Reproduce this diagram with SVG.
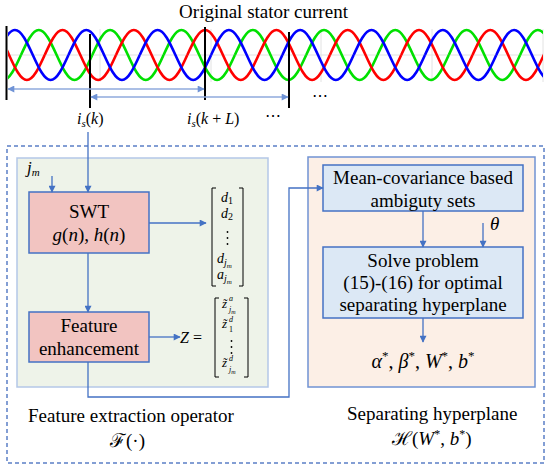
<svg xmlns="http://www.w3.org/2000/svg" xmlns:xlink="http://www.w3.org/1999/xlink" width="550" height="469" viewBox="0 0 550 469" font-family="'Liberation Serif','DejaVu Serif','Times New Roman',serif">
<style>
text{font-family:"Liberation Serif","DejaVu Serif","Times New Roman",serif;fill:#000}
.t19{font-size:19px}
.it{font-style:italic}
.box{stroke:#4472c4;stroke-width:1.5}
.conn{fill:none;stroke:#4472c4;stroke-width:1.3}
.lb{fill:none;stroke:#8faadc;stroke-width:1.3}
.vb{stroke:#000;stroke-width:2}
.br{fill:none;stroke:#000;stroke-width:1}
.grid{stroke:#e2e2e2;stroke-width:1}
.w{fill:none;stroke-width:2.6}
</style>
<defs>
<path id="per" d="M0,0 c5.813,-12.81 11.374,-25 17.825,-25 c6.451,0 12.012,12.19 17.825,25 c5.813,12.81 11.374,25 17.825,25 c6.451,0 12.012,-12.19 17.825,-25"/>
<clipPath id="wclip"><rect x="8" y="20" width="535" height="70"/></clipPath>
<marker id="ah" viewBox="0 0 10 10" refX="9" refY="5" markerWidth="8" markerHeight="7" markerUnits="userSpaceOnUse" orient="auto"><path d="M0,0 L10,5 L0,10 z" fill="#4472c4"/></marker>
<marker id="lah" viewBox="0 0 10 10" refX="9" refY="5" markerWidth="8" markerHeight="7" markerUnits="userSpaceOnUse" orient="auto-start-reverse"><path d="M0,0 L10,5 L0,10 z" fill="#6f93d6"/></marker>
</defs>
<rect width="550" height="469" fill="#fff"/>

<g id="waveform">
<text class="t19" x="263.5" y="18" text-anchor="middle">Original stator current</text>
<g class="grid">
<line x1="100" y1="29" x2="100" y2="82"/><line x1="211" y1="29" x2="211" y2="82"/><line x1="321" y1="29" x2="321" y2="82"/><line x1="432" y1="29" x2="432" y2="82"/><line x1="543" y1="29" x2="543" y2="82"/>
<line x1="8" y1="55" x2="543" y2="55"/>
</g>
<g clip-path="url(#wclip)">
<g class="w" stroke="#00e000" transform="translate(-50.32,55)">
<use xlink:href="#per" x="0"/><use xlink:href="#per" x="71.3"/><use xlink:href="#per" x="142.6"/><use xlink:href="#per" x="213.9"/><use xlink:href="#per" x="285.2"/><use xlink:href="#per" x="356.5"/><use xlink:href="#per" x="427.8"/><use xlink:href="#per" x="499.1"/><use xlink:href="#per" x="570.4"/>
</g>
<g class="w" stroke="#ff0000" transform="translate(-26.6,55)">
<use xlink:href="#per" x="0"/><use xlink:href="#per" x="71.3"/><use xlink:href="#per" x="142.6"/><use xlink:href="#per" x="213.9"/><use xlink:href="#per" x="285.2"/><use xlink:href="#per" x="356.5"/><use xlink:href="#per" x="427.8"/><use xlink:href="#per" x="499.1"/><use xlink:href="#per" x="570.4"/>
</g>
<g class="w" stroke="#0000ff" transform="translate(-2.83,55)">
<use xlink:href="#per" x="0"/><use xlink:href="#per" x="71.3"/><use xlink:href="#per" x="142.6"/><use xlink:href="#per" x="213.9"/><use xlink:href="#per" x="285.2"/><use xlink:href="#per" x="356.5"/><use xlink:href="#per" x="427.8"/><use xlink:href="#per" x="499.1"/>
</g>
</g>
<line class="vb" x1="6.5" y1="26" x2="6.5" y2="100"/>
<line class="vb" x1="90" y1="34" x2="90" y2="108"/>
<line class="vb" x1="205" y1="27" x2="205" y2="100"/>
<line class="vb" x1="289" y1="32" x2="289" y2="108"/>
<line class="lb" x1="8" y1="89" x2="204" y2="89" marker-start="url(#lah)" marker-end="url(#lah)"/>
<line class="lb" x1="91" y1="97" x2="288" y2="97" marker-start="url(#lah)" marker-end="url(#lah)"/>
<text x="312" y="101" font-size="16">⋯</text>
</g>

<g id="labels-is">
<text x="77" y="124" font-size="16"><tspan class="it">i</tspan><tspan dy="3" font-size="11" class="it">s</tspan><tspan dy="-3">(</tspan><tspan class="it">k</tspan>)</text>
<text x="187" y="124" font-size="16"><tspan class="it">i</tspan><tspan dy="3" font-size="11" class="it">s</tspan><tspan dy="-3">(</tspan><tspan class="it">k</tspan> + <tspan class="it">L</tspan>)</text>
<text x="265" y="121" font-size="16">⋯</text>
</g>

<g id="outer">
<rect x="7" y="146" width="537" height="317" fill="none" stroke="#5b7fc6" stroke-width="1.5" stroke-dasharray="4 3"/>
</g>

<g id="feature-extraction">
<rect x="17" y="158" width="251" height="229" fill="#eef3e9" stroke="#b4c7e7" stroke-width="1.5"/>
<text class="t19" x="28" y="422">Feature extraction operator</text>
<text x="110" y="447" font-size="19">ℱ(·)</text>
</g>

<g id="separating">
<rect x="308" y="157" width="227" height="230" fill="#fcefe6" stroke="#7093d3" stroke-width="1.5"/>
<text class="t19" x="347" y="420">Separating hyperplane</text>
<text x="392" y="445" font-size="19">ℋ(<tspan class="it">W</tspan><tspan dy="-7" font-size="12">*</tspan><tspan dy="7">, </tspan><tspan class="it">b</tspan><tspan dy="-7" font-size="12">*</tspan><tspan dy="7">)</tspan></text>
</g>

<g id="jm">
<text x="27" y="173" font-size="17"><tspan class="it">j</tspan><tspan dy="3" font-size="11" class="it">m</tspan></text>
</g>

<g id="swt">
<rect class="box" x="29" y="192" width="120" height="61" fill="#f2c4c1"/>
<text class="t19" x="89" y="218" text-anchor="middle">SWT</text>
<text class="t19" x="89" y="241" text-anchor="middle"><tspan class="it">g</tspan>(<tspan class="it">n</tspan>), <tspan class="it">h</tspan>(<tspan class="it">n</tspan>)</text>
</g>

<g id="matrix-d">
<path class="br" d="M216,188 H212 V286 H216 M239,188 H243 V286 H239"/>
<text font-size="14" class="it"><tspan x="221" y="202">d</tspan><tspan dy="2" font-size="10" font-style="normal">1</tspan></text>
<text font-size="14" class="it"><tspan x="221" y="218">d</tspan><tspan dy="2" font-size="10" font-style="normal">2</tspan></text>
<circle cx="227.5" cy="232" r="0.9"/><circle cx="227.5" cy="238" r="0.9"/><circle cx="227.5" cy="244" r="0.9"/>
<text font-size="14" class="it"><tspan x="217" y="263">d</tspan><tspan dy="3" font-size="10">j</tspan><tspan dy="2" font-size="7">m</tspan></text>
<text font-size="14" class="it"><tspan x="217" y="279">a</tspan><tspan dy="3" font-size="10">j</tspan><tspan dy="2" font-size="7">m</tspan></text>
</g>

<g id="feature-enhancement">
<rect class="box" x="29" y="312" width="120" height="50" fill="#f2c4c1"/>
<text class="t19" x="89" y="332" text-anchor="middle">Feature</text>
<text class="t19" x="89" y="355" text-anchor="middle">enhancement</text>
</g>

<g id="matrix-z">
<text x="180" y="343" font-size="16"><tspan class="it">Z</tspan> =</text>
<path class="br" d="M219,298 H215 V377 H219 M244,298 H248 V377 H244"/>
<text x="222" y="308" font-size="13" class="it">z̃</text>
<text x="229" y="301" font-size="8" class="it">a</text>
<text x="229" y="312" font-size="8" class="it">j<tspan dy="1.5" font-size="6">m</tspan></text>
<text x="222" y="328" font-size="13" class="it">z̃</text>
<text x="229" y="322" font-size="8" class="it">d</text>
<text x="229" y="332" font-size="8">1</text>
<circle cx="231.5" cy="341" r="0.9"/><circle cx="231.5" cy="347" r="0.9"/><circle cx="231.5" cy="353" r="0.9"/>
<text x="222" y="367" font-size="13" class="it">z̃</text>
<text x="229" y="361" font-size="8" class="it">d</text>
<text x="229" y="372" font-size="8" class="it">j<tspan dy="1.5" font-size="6">m</tspan></text>
</g>

<g id="mean-cov">
<rect class="box" x="323" y="165" width="200" height="46" fill="#dce8f5"/>
<text class="t19" x="423" y="184" text-anchor="middle">Mean-covariance based</text>
<text class="t19" x="423" y="207" text-anchor="middle">ambiguty sets</text>
</g>

<g id="theta">
<text x="490" y="230" font-size="19" class="it">θ</text>
</g>

<g id="solve">
<rect class="box" x="323" y="247" width="200" height="71" fill="#dce8f5"/>
<text class="t19" x="423" y="267" text-anchor="middle">Solve problem</text>
<text class="t19" x="423" y="289" text-anchor="middle">(15)-(16) for optimal</text>
<text class="t19" x="423" y="311" text-anchor="middle">separating hyperplane</text>
</g>

<g id="result">
<text x="423" y="368" font-size="20" text-anchor="middle"><tspan class="it">α</tspan><tspan dy="-8" font-size="13">*</tspan><tspan dy="8">, </tspan><tspan class="it">β</tspan><tspan dy="-8" font-size="13">*</tspan><tspan dy="8">, </tspan><tspan class="it">W</tspan><tspan dy="-8" font-size="13">*</tspan><tspan dy="8">, </tspan><tspan class="it">b</tspan><tspan dy="-8" font-size="13">*</tspan></text>
</g>

<g id="connectors">
<line class="conn" x1="88" y1="132" x2="88" y2="192" marker-end="url(#ah)"/>
<line class="conn" x1="52" y1="176" x2="52" y2="192" marker-end="url(#ah)"/>
<line class="conn" x1="149" y1="223" x2="206" y2="223" marker-end="url(#ah)"/>
<line class="conn" x1="88" y1="253" x2="88" y2="312" marker-end="url(#ah)"/>
<line class="conn" x1="149" y1="337" x2="180" y2="337" marker-end="url(#ah)"/>
<path class="conn" d="M88,362 V397 H289 V188 H323" marker-end="url(#ah)"/>
<line class="conn" x1="423" y1="211" x2="423" y2="247" marker-end="url(#ah)"/>
<line class="conn" x1="483" y1="223" x2="483" y2="247" marker-end="url(#ah)"/>
<line class="conn" x1="423" y1="318" x2="423" y2="342" marker-end="url(#ah)"/>
</g>
</svg>
